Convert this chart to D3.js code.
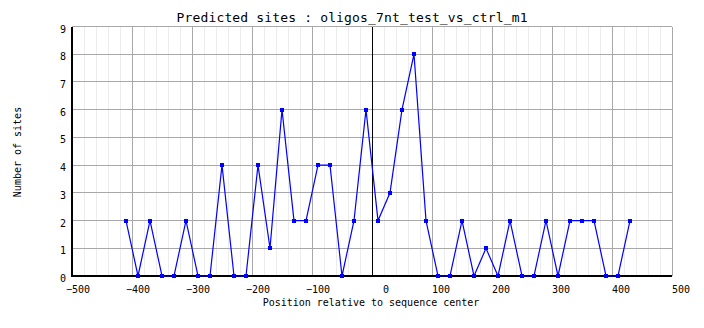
<!DOCTYPE html>
<html>
<head>
<meta charset="utf-8">
<script src="https://cdn.jsdelivr.net/npm/d3@7"></script>
<style>
  html, body { margin: 0; padding: 0; background: #fff; }
  svg { display: block; }
  text { font-family: "DejaVu Sans Mono", "Liberation Mono", monospace; fill: #000; }
</style>
</head>
<body>
<svg id="chart" width="704" height="328"></svg>
<script>
// Site positions (window centers, bp) and number of predicted sites per window
const positions = [-410, -390, -370, -350, -330, -310, -290, -270, -250, -230, -210,
                   -190, -170, -150, -130, -110, -90, -70, -50, -30, -10,
                   10, 30, 50, 70, 90, 110, 130, 150, 170, 190,
                   210, 230, 250, 270, 290, 310, 330, 350, 370, 390, 410, 430];
const siteCounts = [2, 0, 2, 0, 0, 2, 0, 0, 4, 0, 0,
                    4, 1, 6, 2, 2, 4, 4, 0, 2, 6,
                    2, 3, 6, 8, 2, 0, 0, 2, 0, 1,
                    0, 2, 0, 0, 2, 0, 2, 2, 2, 0, 0, 2];
const xTicks = [-500, -400, -300, -200, -100, 0, 100, 200, 300, 400, 500];
const yTicks = [0, 1, 2, 3, 4, 5, 6, 7, 8, 9];

const titleText = "Predicted sites : oligos_7nt_test_vs_ctrl_m1";
const xLabel = "Position relative to sequence center";
const yLabel = "Number of sites";

const svg = d3.select("#chart");
const x = d3.scaleLinear().domain([-500, 500]).range([72, 672]);
const y = d3.scaleLinear().domain([0, 9]).range([276, 26.5]);

const grid = svg.append("g").attr("shape-rendering", "crispEdges");

// minor vertical grid every 20 bp
grid.selectAll("line.minor")
  .data(d3.range(-480, 500, 20).filter(v => v % 100 !== 0))
  .join("line")
  .attr("x1", d => x(d)).attr("x2", d => x(d))
  .attr("y1", y(9)).attr("y2", y(0))
  .attr("stroke", "#ececec");

// major vertical grid
grid.selectAll("line.vmajor")
  .data(xTicks.filter(v => v !== -500))
  .join("line")
  .attr("x1", d => x(d)).attr("x2", d => x(d))
  .attr("y1", y(9)).attr("y2", y(0))
  .attr("stroke", "#a8a8a8");

// major horizontal grid
grid.selectAll("line.hmajor")
  .data(yTicks.filter(v => v !== 0))
  .join("line")
  .attr("x1", x(-500)).attr("x2", x(500))
  .attr("y1", d => y(d)).attr("y2", d => y(d))
  .attr("stroke", "#a8a8a8");

// axes and center marker
grid.append("line")
  .attr("x1", x(-500)).attr("x2", x(-500)).attr("y1", y(9)).attr("y2", y(0) + 1)
  .attr("stroke", "#000").attr("stroke-width", 1.4);
grid.append("line")
  .attr("x1", x(-500)).attr("x2", x(500)).attr("y1", y(0)).attr("y2", y(0))
  .attr("stroke", "#000").attr("stroke-width", 1.4);
grid.append("line")
  .attr("x1", x(0)).attr("x2", x(0)).attr("y1", y(9)).attr("y2", y(0))
  .attr("stroke", "#000");

// x tick labels: digits start at the tick, minus sign hangs left
svg.append("g").selectAll("text")
  .data(xTicks)
  .join("text")
  .attr("x", d => d < 0 ? x(d) - 6 : (d === 0 ? x(d) + 11 : x(d)))
  .attr("y", 292.5)
  .attr("font-size", 10)
  .text(d => d < 0 ? "\u2212" + Math.abs(d) : String(d));

// y tick labels
svg.append("g").selectAll("text")
  .data(yTicks)
  .join("text")
  .attr("x", 66)
  .attr("y", d => y(d) + 6)
  .attr("text-anchor", "end")
  .attr("font-size", 10)
  .text(d => d);

// titles
svg.append("text")
  .attr("x", 352).attr("y", 22)
  .attr("text-anchor", "middle")
  .attr("font-size", 13)
  .attr("textLength", 351)
  .attr("lengthAdjust", "spacing")
  .text(titleText);

svg.append("text")
  .attr("x", 371).attr("y", 305.5)
  .attr("text-anchor", "middle")
  .attr("font-size", 10)
  .text(xLabel);

svg.append("text")
  .attr("transform", "translate(21,152) rotate(-90)")
  .attr("text-anchor", "middle")
  .attr("font-size", 10)
  .text(yLabel);

// series
const pts = positions.map((p, i) => [p, siteCounts[i]]);
svg.append("path")
  .datum(pts)
  .attr("fill", "none")
  .attr("stroke", "#0000ff")
  .attr("stroke-width", 1.2)
  .attr("d", d3.line().x(d => x(d[0])).y(d => y(d[1])));

svg.append("g").attr("shape-rendering", "crispEdges")
  .selectAll("rect")
  .data(pts)
  .join("rect")
  .attr("x", d => Math.round(x(d[0])) - 2)
  .attr("y", d => Math.round(y(d[1])) - 2)
  .attr("width", 4).attr("height", 4)
  .attr("fill", "#0000ff");
</script>
</body>
</html>
